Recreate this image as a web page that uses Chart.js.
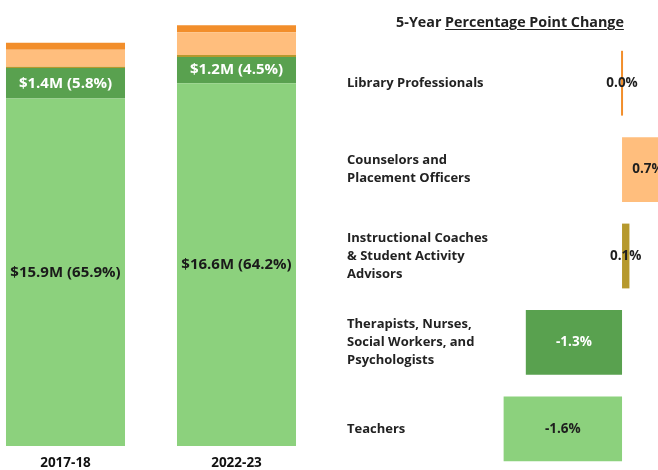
<!DOCTYPE html>
<html>
<head>
<meta charset="utf-8">
<script src="https://cdn.jsdelivr.net/npm/chart.js@4.4.1/dist/chart.umd.min.js"></script>
<style>
  html, body { margin: 0; padding: 0; background: #fff; overflow: hidden; }
  body { width: 658px; height: 470px; position: relative; font-family: "Open Sans", sans-serif; }
  #spend { position: absolute; left: -20px; top: 0; }
  #change { position: absolute; left: 330px; top: 0; }
  #title {
    position: absolute; left: 510px; top: 13px; transform: translateX(-50%);
    white-space: nowrap; font: bold 14.3px/1.2 "Open Sans", sans-serif; color: #222;
  }
  #title u { text-decoration-thickness: 1px; text-underline-offset: 2px; }
</style>
</head>
<body>
<canvas id="spend" width="342" height="470"></canvas>
<canvas id="change" width="328" height="472"></canvas>
<div id="title">5-Year <u>Percentage Point Change</u></div>
<script>
// Spending by staff role, in $ millions, with share of total budget (%)
const years = ['2017-18', '2022-23'];
const teacherSpend = [15.9, 16.6];
const teacherShare = [65.9, 64.2];
const therapistSpend = [1.4, 1.2];
const therapistShare = [5.8, 4.5];
const coachSpend = [0.05, 0.09];
const counselorSpend = [0.78, 1.04];
const librarySpend = [0.32, 0.33];

// Five-year change in share of budget (percentage points)
const roles = [
  'Library Professionals',
  ['Counselors and', 'Placement Officers'],
  ['Instructional Coaches', '& Student Activity', 'Advisors'],
  ['Therapists, Nurses,', 'Social Workers, and', 'Psychologists'],
  'Teachers'
];
const pointChange = [0.0, 0.7, 0.1, -1.3, -1.6];

const FONT = 'Open Sans';
const C_TEACH = '#8CD17D', C_THER = '#59A14F', C_COACH = '#B6992D',
      C_COUNS = '#FFBE7D', C_LIB = '#F28E2B';
const roleColors = [C_LIB, C_COUNS, C_COACH, C_THER, C_TEACH];
const roleTextColors = ['#1e1e1e', '#1e1e1e', '#1e1e1e', '#ffffff', '#1e1e1e'];

const money = (m, p) => m.map((v, i) => '$' + v.toFixed(1) + 'M (' + p[i].toFixed(1) + '%)');

// Writes "$xM (y%)" in the middle of labelled stack segments
const segmentLabels = {
  id: 'segmentLabels',
  afterDatasetsDraw(chart) {
    const ctx = chart.ctx;
    chart.data.datasets.forEach((ds, i) => {
      if (!ds.labelText) return;
      chart.getDatasetMeta(i).data.forEach((bar, j) => {
        ctx.save();
        ctx.font = 'bold 15px "' + FONT + '"';
        ctx.fillStyle = ds.labelColor;
        ctx.textAlign = 'center';
        ctx.textBaseline = 'middle';
        ctx.fillText(ds.labelText[j], bar.x, (bar.y + bar.base) / 2);
        ctx.restore();
      });
    });
  }
};

// Writes the point change centred on each horizontal bar
const changeLabels = {
  id: 'changeLabels',
  afterDatasetsDraw(chart) {
    const ctx = chart.ctx;
    const ds = chart.data.datasets[0];
    chart.getDatasetMeta(0).data.forEach((bar, j) => {
      ctx.save();
      ctx.font = 'bold 13.5px "' + FONT + '"';
      ctx.fillStyle = roleTextColors[j];
      ctx.textAlign = 'center';
      ctx.textBaseline = 'middle';
      ctx.fillText(ds.data[j].toFixed(1) + '%', (bar.x + bar.base) / 2, bar.y);
      ctx.restore();
    });
  }
};

new Chart(document.getElementById('spend'), {
  type: 'bar',
  data: {
    labels: years,
    datasets: [
      { label: 'Teachers', data: teacherSpend, backgroundColor: C_TEACH,
        labelText: money(teacherSpend, teacherShare), labelColor: '#1a1a1a' },
      { label: 'Therapists, Nurses, Social Workers, and Psychologists', data: therapistSpend,
        backgroundColor: C_THER, labelText: money(therapistSpend, therapistShare), labelColor: '#ffffff' },
      { label: 'Instructional Coaches & Student Activity Advisors', data: coachSpend, backgroundColor: C_COACH },
      { label: 'Counselors and Placement Officers', data: counselorSpend, backgroundColor: C_COUNS },
      { label: 'Library Professionals', data: librarySpend, backgroundColor: C_LIB }
    ]
  },
  options: {
    responsive: false,
    animation: false,
    layout: { padding: 0 },
    datasets: { bar: { categoryPercentage: 1, barPercentage: 0.696 } },
    plugins: { legend: { display: false }, tooltip: { enabled: false } },
    scales: {
      x: {
        stacked: true,
        grid: { display: false, drawTicks: false },
        border: { display: false },
        ticks: { font: { family: FONT, size: 13.5, weight: 'bold' }, color: '#111', padding: 9 },
        afterFit: (s) => { s.height = 24; }
      },
      y: { stacked: true, display: false, min: 0, max: 20.41 }
    }
  },
  plugins: [segmentLabels]
});

new Chart(document.getElementById('change'), {
  type: 'bar',
  data: {
    labels: roles,
    datasets: [{
      data: pointChange,
      backgroundColor: roleColors,
      minBarLength: 2,
      categoryPercentage: 1,
      barPercentage: 0.75
    }]
  },
  options: {
    indexAxis: 'y',
    responsive: false,
    animation: false,
    layout: { padding: { left: 17, top: 40, right: 0, bottom: 0 } },
    plugins: { legend: { display: false }, tooltip: { enabled: false } },
    scales: {
      x: { display: false, min: -1.784, max: 0.486 },
      y: {
        grid: { display: false, drawTicks: false },
        border: { display: false },
        ticks: {
          crossAlign: 'far',
          font: { family: FONT, size: 13, weight: 'bold', lineHeight: 1.385 },
          color: '#222'
        },
        afterFit: (s) => { s.width = 143; s.paddingTop = 0; s.paddingBottom = 0; }
      }
    }
  },
  plugins: [changeLabels]
});
</script>
</body>
</html>
